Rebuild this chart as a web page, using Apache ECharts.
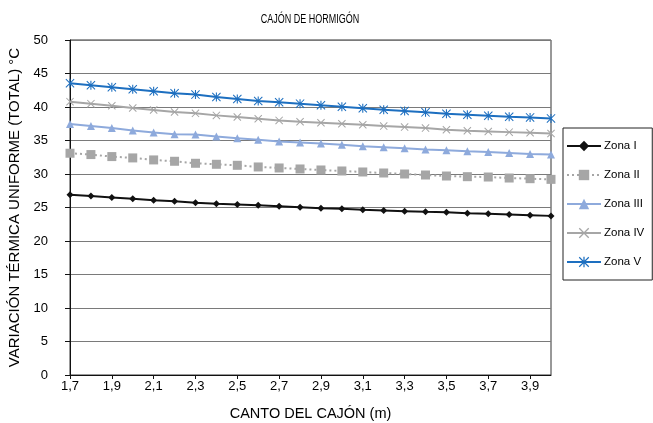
<!DOCTYPE html>
<html><head><meta charset="utf-8">
<script src="https://cdn.jsdelivr.net/npm/echarts@6/dist/echarts.min.js"></script>
<style>html,body{margin:0;padding:0;background:#fff}#c{width:653px;height:423px}</style>
</head><body><div id="c"></div>
<script>
const categories = ['1,7','1,8','1,9','2,0','2,1','2,2','2,3','2,4','2,5','2,6','2,7','2,8','2,9','3,0','3,1','3,2','3,3','3,4','3,5','3,6','3,7','3,8','3,9','4,0'];
const zonaI   = [26.9,26.7,26.5,26.3,26.1,25.95,25.7,25.55,25.45,25.35,25.2,25.05,24.9,24.8,24.65,24.55,24.45,24.35,24.3,24.15,24.05,23.95,23.85,23.75];
const zonaII  = [33.1,32.9,32.6,32.4,32.1,31.9,31.6,31.45,31.3,31.05,30.9,30.75,30.6,30.45,30.3,30.15,30.0,29.85,29.7,29.6,29.55,29.4,29.3,29.2];
const zonaIII = [37.45,37.15,36.85,36.5,36.2,35.95,35.9,35.6,35.35,35.1,34.85,34.7,34.55,34.35,34.15,34.0,33.85,33.65,33.55,33.4,33.3,33.15,33.0,32.9];
const zonaIV  = [40.8,40.5,40.2,39.85,39.55,39.25,39.05,38.75,38.5,38.25,38.0,37.8,37.65,37.5,37.35,37.15,37.0,36.85,36.6,36.45,36.35,36.25,36.15,36.05];
const zonaV   = [43.55,43.25,42.95,42.65,42.35,42.05,41.85,41.5,41.2,40.9,40.7,40.5,40.25,40.05,39.8,39.6,39.4,39.2,39.0,38.85,38.7,38.55,38.45,38.3];
const seriesNames = ['Zona I','Zona II','Zona III','Zona IV','Zona V'];
const yTicks = {min:0, max:50, interval:5};
const titleText = 'CAJÓN DE HORMIGÓN';

const FONT = '"Liberation Sans",Arial,sans-serif';
const asterisk = 'path://M4.4,0 L5.6,0 L5.6,10 L4.4,10 Z M0,0.8 L0.8,0 L10,9.2 L9.2,10 Z M10,0.8 L0.8,10 L0,9.2 L9.2,0 Z';

const chart = echarts.init(document.getElementById('c'), null, {renderer:'canvas'});
chart.setOption({
  animation:false,
  textStyle:{fontFamily:FONT},
  graphic:[{type:'text', x:310, y:19, scaleX:0.72, scaleY:1.05,
    style:{text:titleText, font:'12.5px ' + FONT, fill:'#000', textAlign:'center', textVerticalAlign:'middle'}}],
  grid:{left:70, top:40, width:481, height:335, show:true, borderColor:'#333', borderWidth:1,
    containLabel:false, outerBoundsMode:'none'},
  legend:{orient:'vertical', left:563, top:128, width:80,
    padding:[12,8,12,3], itemGap:17, itemWidth:34, itemHeight:13,
    borderColor:'#222', borderWidth:1,
    textStyle:{fontFamily:FONT, fontSize:11.5, color:'#000', padding:[0,0,0,-2]},
    data:seriesNames},
  xAxis:{type:'category', data:categories, boundaryGap:false,
    name:'CANTO DEL CAJÓN (m)', nameLocation:'middle', nameGap:31,
    nameTextStyle:{fontFamily:FONT, fontSize:14.5, color:'#000'},
    axisLine:{lineStyle:{color:'#111', width:1}},
    axisTick:{interval:1, length:4, lineStyle:{color:'#111'}},
    axisLabel:{interval:1, fontFamily:FONT, fontSize:13, color:'#000', margin:5},
    splitLine:{show:false}},
  yAxis:{type:'value', min:yTicks.min, max:yTicks.max, interval:yTicks.interval,
    name:'VARIACIÓN TÉRMICA UNIFORME (TOTAL) °C', nameLocation:'middle', nameGap:47,
    nameTextStyle:{fontFamily:FONT, fontSize:15, color:'#000'},
    axisLine:{show:true, lineStyle:{color:'#111', width:1}},
    axisTick:{show:true, length:5, lineStyle:{color:'#111'}},
    axisLabel:{fontFamily:FONT, fontSize:13, color:'#000', margin:22},
    splitLine:{lineStyle:{color:'#7a7a7a', width:1}}},
  series:[
    {name:'Zona I', type:'line', data:zonaI, symbol:'diamond', symbolSize:7,
      itemStyle:{color:'#111'}, lineStyle:{color:'#111', width:2}},
    {name:'Zona II', type:'line', data:zonaII, symbol:'rect', symbolSize:9,
      itemStyle:{color:'#a6a6a6'}, lineStyle:{color:'#a6a6a6', width:2, type:[2,3]}},
    {name:'Zona III', type:'line', data:zonaIII, symbol:'triangle', symbolSize:8,
      itemStyle:{color:'#8eaadc'}, lineStyle:{color:'#8eaadc', width:2}},
    {name:'Zona IV', type:'line', data:zonaIV, symbol:'path://M0,0.9 L0.9,0 L10,9.1 L9.1,10 Z M10,0.9 L0.9,10 L0,9.1 L9.1,0 Z', symbolSize:8,
      itemStyle:{color:'#a6a6a6'}, lineStyle:{color:'#a6a6a6', width:2}},
    {name:'Zona V', type:'line', data:zonaV, symbol:asterisk, symbolSize:9,
      itemStyle:{color:'#1d6fc0'}, lineStyle:{color:'#1d6fc0', width:2}}
  ]
});
</script></body></html>
